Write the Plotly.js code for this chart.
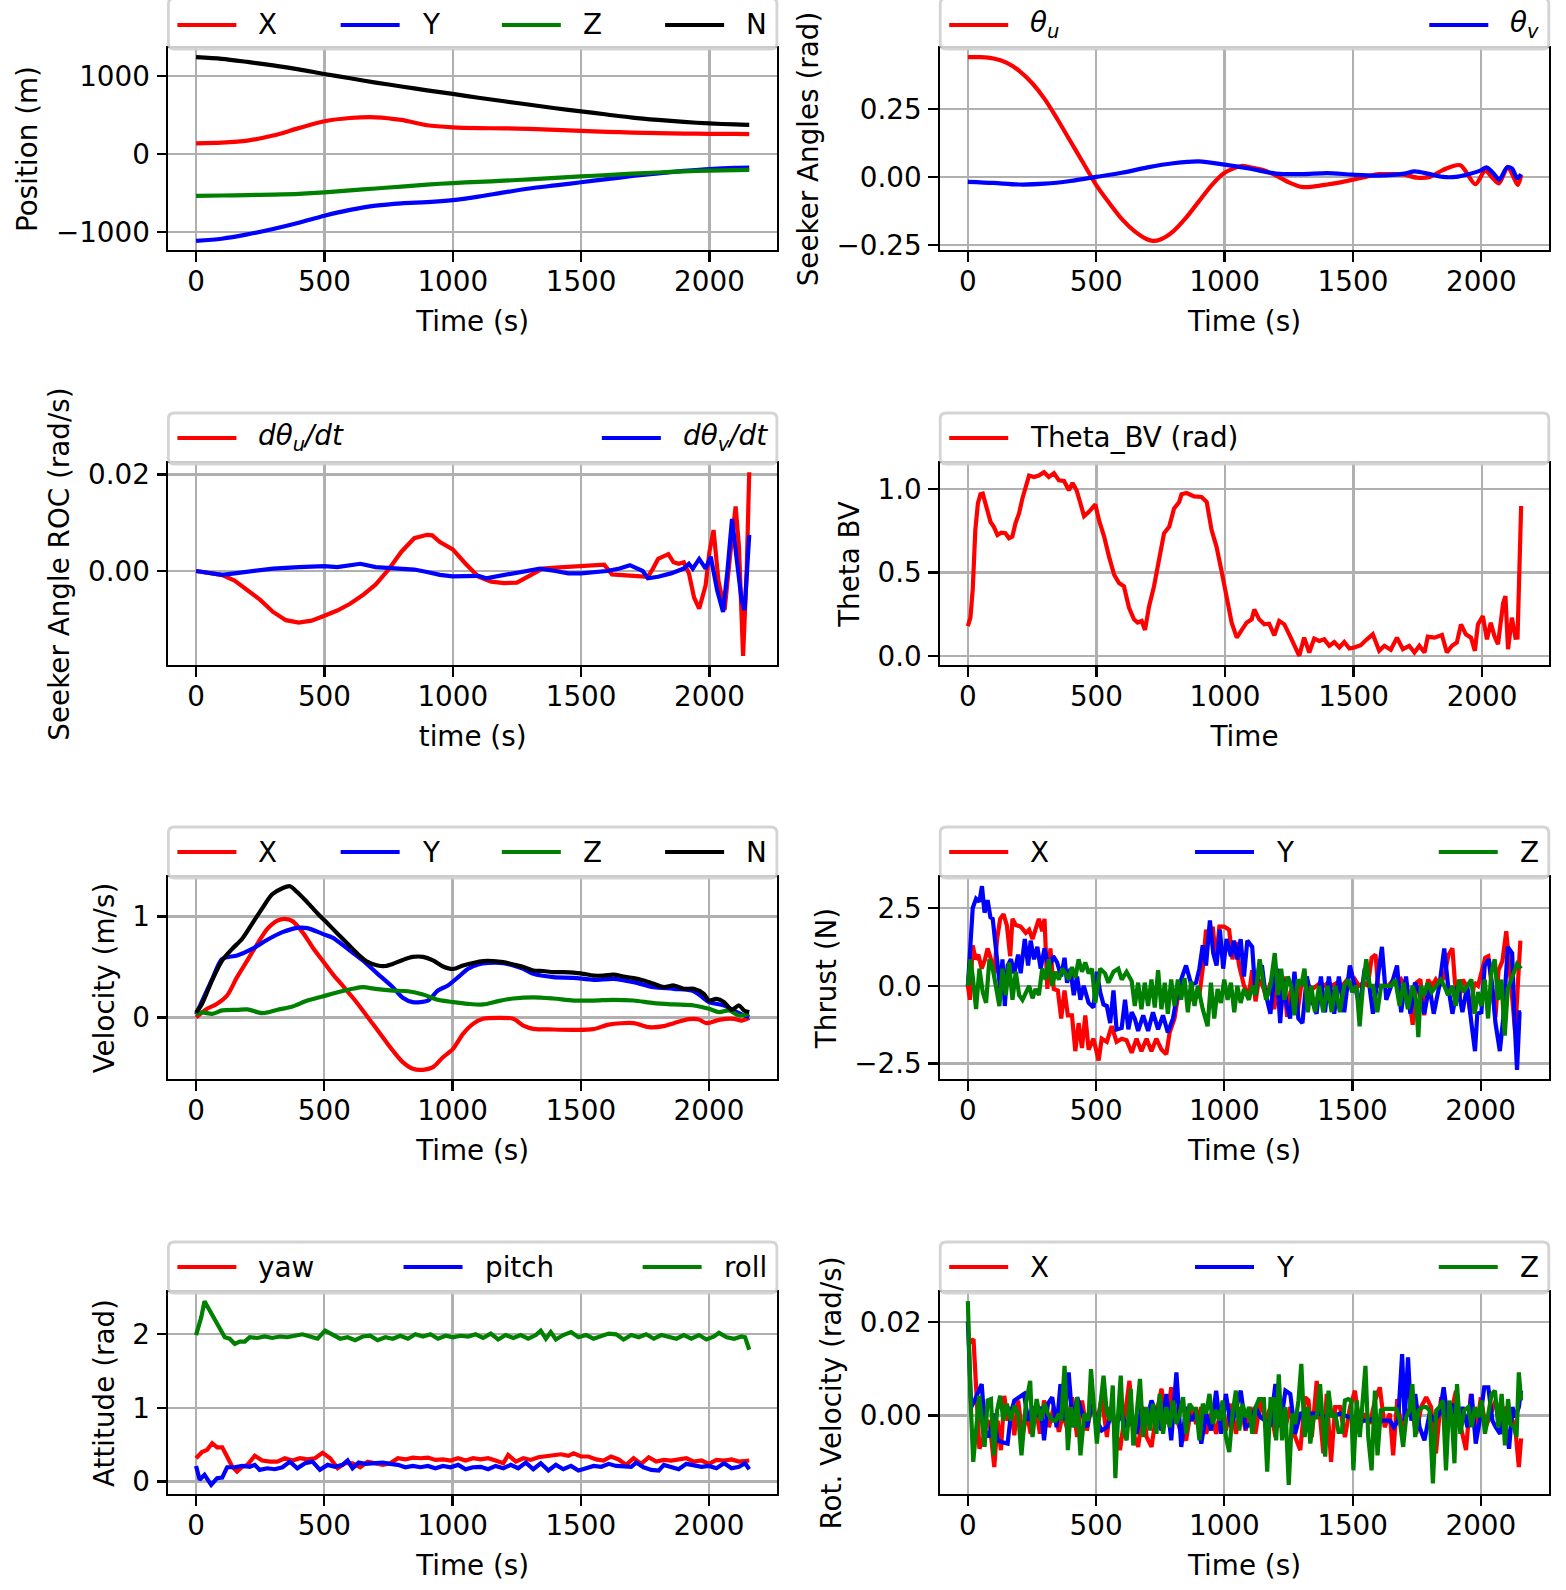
<!DOCTYPE html>
<html><head><meta charset="utf-8">
<script src="https://cdn.plot.ly/plotly-3.0.1.min.js"></script>
<style>html,body{margin:0;padding:0;background:#fff}#chart{width:1566px;height:1590px}</style>
</head><body><div id="chart"></div>
<script>
// ---------------- DATA (time [s], value) ----------------
const posX = [[0,140],[100,150],[200,175],[300,240],[400,335],[500,424],[600,465],[700,474],[800,440],[900,372],[1000,345],[1100,335],[1200,332],[1300,325],[1400,312],[1500,300],[1600,288],[1700,278],[1800,270],[1900,265],[2000,262],[2100,260],[2155,258]];
const posY = [[0,-1112],[100,-1085],[200,-1030],[300,-960],[400,-880],[500,-790],[600,-715],[700,-660],[800,-630],[900,-615],[1000,-590],[1100,-545],[1200,-490],[1300,-440],[1400,-400],[1500,-360],[1600,-320],[1700,-280],[1800,-245],[1900,-215],[2000,-190],[2100,-175],[2155,-172]];
const posZ = [[0,-535],[100,-530],[200,-525],[300,-518],[400,-508],[500,-490],[600,-465],[700,-440],[800,-415],[900,-390],[1000,-370],[1100,-355],[1200,-340],[1300,-322],[1400,-305],[1500,-285],[1600,-268],[1700,-250],[1800,-235],[1900,-220],[2000,-210],[2100,-203],[2155,-200]];
const posN = [[0,1246],[100,1225],[200,1185],[300,1140],[400,1090],[500,1030],[600,975],[700,920],[800,870],[900,820],[1000,775],[1100,725],[1200,680],[1300,635],[1400,590],[1500,550],[1600,510],[1700,470],[1800,440],[1900,415],[2000,395],[2100,382],[2155,378]];

const seekU = [[0,0.44],[50,0.44],[100,0.435],[150,0.42],[200,0.39],[250,0.345],[300,0.285],[350,0.21],[400,0.13],[450,0.05],[500,-0.03],[550,-0.095],[600,-0.155],[650,-0.2],[700,-0.23],[720,-0.235],[750,-0.23],[800,-0.2],[850,-0.15],[900,-0.09],[950,-0.03],[1000,0.015],[1065,0.04],[1100,0.035],[1150,0.025],[1200,0.005],[1250,-0.02],[1300,-0.037],[1350,-0.035],[1400,-0.028],[1450,-0.02],[1500,-0.01],[1550,0.0],[1600,0.01],[1650,0.01],[1700,0.008],[1750,-0.003],[1800,0.0],[1850,0.025],[1918,0.043],[1977,-0.027],[2015,0.024],[2040,0.0],[2068,-0.024],[2103,0.037],[2120,0.01],[2142,-0.03],[2155,0.006]];
const seekV = [[0,-0.018],[100,-0.022],[200,-0.028],[300,-0.025],[400,-0.015],[500,0.0],[600,0.015],[700,0.035],[800,0.05],[900,0.057],[1000,0.045],[1100,0.03],[1200,0.012],[1300,0.01],[1400,0.014],[1500,0.008],[1600,0.005],[1700,0.012],[1740,0.02],[1800,0.01],[1850,0.0],[1900,0.0],[1950,0.01],[2000,0.025],[2020,0.035],[2050,0.01],[2070,-0.01],[2100,0.035],[2120,0.03],[2140,-0.005],[2155,0.01]];

const rocU = [[0,0],[50,-0.0003],[100,-0.0008],[150,-0.002],[200,-0.004],[250,-0.006],[300,-0.0085],[350,-0.0102],[400,-0.0107],[450,-0.0103],[500,-0.0093],[550,-0.0082],[600,-0.0068],[650,-0.005],[700,-0.0028],[750,0.0003],[800,0.004],[850,0.0068],[900,0.0075],[920,0.0074],[950,0.006],[1000,0.0045],[1050,0.0015],[1100,-0.0012],[1150,-0.0022],[1200,-0.0025],[1250,-0.0024],[1300,-0.001],[1350,0.0005],[1400,0.0007],[1500,0.001],[1590,0.0013],[1620,-0.0007],[1700,-0.001],[1760,-0.0012],[1780,0.0005],[1800,0.0025],[1840,0.0035],[1860,0.0018],[1880,0.0015],[1900,0.0018],[1920,-0.0005],[1940,-0.0055],[1960,-0.0078],[1985,-0.003],[2000,0.004],[2016,0.0085],[2035,-0.002],[2059,-0.0081],[2080,0.003],[2102,0.0134],[2115,0.005],[2131,-0.0176],[2145,0.0],[2155,0.0205]];
const rocV = [[0,0],[50,-0.0003],[100,-0.0008],[150,-0.0005],[200,-0.0001],[250,0.0001],[300,0.0005],[400,0.0008],[500,0.001],[550,0.0008],[600,0.0012],[640,0.0015],[700,0.0008],[800,0.0005],[850,0.0003],[900,-0.0002],[950,-0.0008],[1000,-0.0011],[1050,-0.0011],[1100,-0.001],[1130,-0.0015],[1200,-0.0008],[1250,-0.0003],[1300,0.0],[1340,0.0005],[1400,0.0],[1450,-0.0005],[1500,-0.0005],[1550,-0.0003],[1600,0.0],[1650,0.0005],[1690,0.0012],[1740,0.0],[1760,-0.0015],[1800,-0.0012],[1850,-0.0005],[1900,0.0005],[1920,0.0015],[1935,0.0005],[1960,0.0025],[1985,0.0005],[2005,0.003],[2030,-0.004],[2053,-0.0085],[2070,0.0],[2088,0.0108],[2105,0.003],[2125,-0.006],[2137,-0.0081],[2155,0.0075]];

const thetaBV = [[0,0.179],[10,0.229],[19,0.4],[29,0.755],[39,0.915],[49,0.97],[58,0.974],[72,0.905],[88,0.805],[101,0.775],[115,0.726],[130,0.74],[146,0.736],[160,0.706],[173,0.716],[185,0.795],[199,0.855],[212,0.944],[228,1.044],[238,1.083],[257,1.074],[276,1.083],[296,1.103],[315,1.074],[335,1.097],[354,1.054],[374,1.05],[393,0.994],[407,1.038],[423,0.994],[438,0.915],[452,0.839],[471,0.865],[496,0.909],[510,0.815],[530,0.716],[549,0.596],[569,0.487],[588,0.437],[607,0.417],[627,0.288],[646,0.219],[660,0.2],[676,0.209],[689,0.155],[705,0.298],[724,0.417],[744,0.577],[763,0.736],[783,0.775],[802,0.885],[822,0.924],[831,0.97],[851,0.978],[880,0.958],[909,0.954],[929,0.924],[948,0.755],[967,0.656],[987,0.507],[1007,0.358],[1026,0.199],[1046,0.109],[1065,0.149],[1084,0.199],[1104,0.219],[1114,0.278],[1133,0.219],[1153,0.189],[1172,0.193],[1192,0.123],[1211,0.209],[1231,0.189],[1250,0.129],[1269,0.07],[1289,0.0],[1308,0.109],[1328,0.02],[1347,0.103],[1367,0.089],[1386,0.099],[1406,0.06],[1425,0.083],[1445,0.05],[1464,0.083],[1484,0.044],[1503,0.05],[1528,0.064],[1552,0.099],[1575,0.129],[1600,0.03],[1620,0.06],[1645,0.036],[1669,0.109],[1692,0.04],[1717,0.06],[1737,0.02],[1756,0.06],[1776,0.02],[1789,0.115],[1815,0.109],[1844,0.125],[1863,0.02],[1883,0.06],[1902,0.08],[1918,0.189],[1937,0.129],[1957,0.109],[1972,0.03],[1984,0.189],[2003,0.239],[2019,0.099],[2034,0.199],[2048,0.119],[2062,0.07],[2082,0.318],[2091,0.358],[2101,0.04],[2116,0.229],[2130,0.109],[2138,0.11],[2152,0.9]];

const velX = [[0,0.0],[43,0.086],[82,0.135],[121,0.218],[160,0.4],[200,0.565],[239,0.73],[278,0.878],[317,0.96],[346,0.977],[376,0.954],[415,0.845],[454,0.696],[493,0.564],[532,0.432],[571,0.317],[610,0.2],[650,0.07],[689,-0.063],[728,-0.195],[767,-0.327],[806,-0.442],[845,-0.508],[885,-0.518],[924,-0.492],[963,-0.393],[1002,-0.31],[1041,-0.162],[1080,-0.063],[1119,-0.013],[1178,-0.003],[1237,-0.013],[1276,-0.08],[1315,-0.112],[1393,-0.119],[1472,-0.122],[1550,-0.115],[1609,-0.07],[1706,-0.056],[1765,-0.096],[1824,-0.086],[1863,-0.056],[1922,-0.017],[1961,-0.02],[1990,-0.056],[2039,-0.023],[2098,-0.013],[2127,-0.03],[2157,-0.003]];
const velY = [[0,0.03],[63,0.38],[102,0.58],[160,0.614],[219,0.68],[278,0.77],[337,0.845],[395,0.888],[434,0.885],[493,0.828],[532,0.79],[591,0.68],[650,0.565],[708,0.432],[767,0.3],[806,0.195],[845,0.152],[904,0.168],[943,0.267],[982,0.317],[1022,0.4],[1061,0.482],[1100,0.525],[1139,0.54],[1198,0.538],[1237,0.515],[1276,0.482],[1315,0.432],[1393,0.4],[1472,0.393],[1550,0.373],[1628,0.383],[1706,0.35],[1785,0.3],[1863,0.284],[1941,0.26],[2000,0.152],[2059,0.119],[2117,0.043],[2157,0.003]];
const velZ = [[0,0.03],[23,0.05],[63,0.036],[102,0.07],[160,0.076],[200,0.08],[258,0.043],[317,0.076],[376,0.109],[434,0.168],[493,0.208],[552,0.25],[610,0.284],[650,0.3],[708,0.28],[767,0.267],[826,0.26],[885,0.228],[943,0.175],[1002,0.152],[1061,0.135],[1119,0.129],[1178,0.162],[1237,0.188],[1315,0.2],[1393,0.188],[1472,0.168],[1550,0.168],[1628,0.175],[1706,0.168],[1785,0.142],[1863,0.129],[1941,0.119],[2000,0.086],[2039,0.053],[2078,0.07],[2117,0.02],[2157,0.036]];
const velN = [[0,0.05],[23,0.135],[63,0.37],[102,0.565],[141,0.68],[180,0.78],[219,0.93],[258,1.08],[297,1.22],[337,1.28],[366,1.3],[395,1.24],[434,1.14],[474,1.03],[513,0.93],[552,0.83],[591,0.73],[630,0.63],[669,0.55],[708,0.515],[738,0.51],[767,0.53],[806,0.57],[845,0.6],[885,0.6],[924,0.565],[963,0.505],[1002,0.48],[1041,0.515],[1080,0.54],[1119,0.558],[1159,0.558],[1198,0.548],[1237,0.525],[1276,0.5],[1315,0.465],[1354,0.46],[1393,0.45],[1432,0.45],[1472,0.445],[1511,0.432],[1550,0.415],[1589,0.415],[1628,0.425],[1667,0.405],[1706,0.39],[1745,0.366],[1785,0.333],[1824,0.3],[1863,0.317],[1902,0.284],[1941,0.284],[1980,0.234],[2000,0.168],[2029,0.185],[2059,0.152],[2088,0.076],[2117,0.119],[2137,0.07],[2157,0.053]];

const thrX = [[0,0],[8,-0.45],[19,1.3],[30,0.85],[41,1.0],[54,0.55],[67,0.85],[77,1.2],[90,0.85],[103,0.4],[114,1.5],[126,2.15],[139,2.3],[152,1.95],[165,0.95],[174,2.15],[187,1.95],[206,1.9],[226,1.7],[239,1.8],[252,1.5],[264,1.8],[277,2.15],[290,1.75],[299,2.15],[310,-0.1],[322,1.2],[335,-0.1],[351,-0.15],[364,-1.05],[377,-0.15],[390,-0.95],[406,-0.95],[419,-2.1],[432,-1.2],[445,-2.0],[458,-0.95],[471,-2.05],[490,-1.7],[510,-2.4],[522,-1.7],[542,-1.8],[561,-1.3],[580,-1.8],[600,-1.7],[619,-1.75],[639,-2.15],[658,-1.7],[677,-2.1],[697,-1.7],[716,-2.1],[735,-1.7],[755,-2.05],[774,-2.2],[787,-1.5],[806,-1.05],[826,0],[851,-0.2],[877,-0.45],[903,-0.3],[916,0.55],[929,1.8],[942,1.4],[955,1.9],[968,0.85],[981,1.9],[1000,1.9],[1019,1.8],[1032,0.85],[1045,1.4],[1058,0.65],[1077,0],[1090,-0.2],[1096,-0.3],[1109,0.5],[1122,-0.5],[1135,0.2],[1150,0.0],[1165,-0.4],[1180,0.1],[1195,-0.75],[1208,0.0],[1220,-0.9],[1232,0.3],[1245,-1.0],[1258,-0.2],[1270,0.0],[1285,-0.9],[1300,0.0],[1315,0.1],[1330,0.0],[1345,-0.1],[1360,0.0],[1375,0.1],[1390,0.0],[1405,0.1],[1420,0.0],[1440,0.1],[1460,0.0],[1480,0.2],[1495,0.0],[1510,0.2],[1525,0.0],[1545,0.1],[1560,0.0],[1575,0.9],[1590,1.0],[1600,0.0],[1620,0.0],[1640,0.0],[1660,0.2],[1675,0.0],[1690,0.2],[1705,0.0],[1720,-0.3],[1735,-1.25],[1750,0.1],[1765,0.2],[1780,-0.95],[1795,0.2],[1810,0.0],[1825,0.2],[1840,0.0],[1858,0.3],[1875,1.0],[1890,1.2],[1900,0.1],[1915,-0.5],[1930,0.2],[1945,0.0],[1960,-0.9],[1975,0.1],[1990,0.0],[2005,0.5],[2018,0.9],[2030,0.95],[2045,-0.2],[2058,-1.0],[2070,0.5],[2085,0.8],[2100,1.75],[2115,0.3],[2125,-0.5],[2135,-1.5],[2145,0.0],[2155,1.45]];
const thrY = [[0,0],[10,1.4],[19,2.5],[32,2.8],[45,2.7],[55,3.2],[65,2.35],[77,2.75],[88,2.2],[97,2.15],[106,1.4],[116,0.85],[126,-0.1],[135,0.85],[144,-0.65],[155,0.65],[168,0.85],[181,0.4],[196,1.0],[206,0.4],[222,1.5],[235,0.65],[245,1.45],[258,0.85],[271,1.25],[284,0.55],[299,1.2],[316,0.55],[333,0.95],[348,0.75],[364,0.3],[377,0.9],[387,0.1],[400,0.55],[413,-0.3],[426,0.3],[439,-0.45],[452,0.0],[471,-0.55],[490,-0.7],[503,0.45],[516,-0.2],[529,-0.6],[542,-0.65],[555,-1.2],[568,-0.15],[580,-1.4],[600,-1.35],[613,-0.45],[626,-1.4],[639,-0.85],[651,-1.05],[664,-1.45],[684,-0.95],[703,-1.45],[722,-0.85],[742,-1.4],[761,-0.95],[780,-1.5],[800,-1.05],[813,-0.45],[832,0.2],[851,0.65],[871,0.05],[890,0.1],[903,0.55],[916,1.3],[929,0.65],[944,2.1],[957,1.05],[970,0.65],[983,1.8],[996,0.55],[1009,1.5],[1026,0.95],[1038,1.45],[1051,0.85],[1064,1.5],[1077,0.3],[1090,1.45],[1109,1.25],[1122,-0.3],[1135,0.55],[1147,0.65],[1160,-0.2],[1180,-0.9],[1192,0],[1205,0.55],[1218,-1.2],[1231,0.2],[1244,-0.65],[1257,-1.05],[1274,0.45],[1289,-1.05],[1305,-1.2],[1322,0.3],[1341,-0.45],[1360,-0.9],[1377,0.3],[1393,-0.85],[1408,0.3],[1429,-0.9],[1447,0.3],[1468,-0.85],[1490,0.65],[1509,0],[1528,-0.65],[1548,0.55],[1563,0.2],[1580,-0.9],[1599,0.3],[1615,1.25],[1632,-0.45],[1651,0],[1674,0.65],[1690,-0.85],[1709,0.3],[1726,-0.9],[1744,0.1],[1761,-0.2],[1780,-0.9],[1800,0],[1817,-0.9],[1839,0],[1858,1.2],[1873,0],[1890,-0.9],[1910,0],[1929,-0.85],[1948,0],[1964,-1.2],[1978,-2.1],[1987,-0.9],[2003,-0.85],[2016,0.65],[2032,0.85],[2045,0],[2058,-1.2],[2075,-2.1],[2088,-1.05],[2106,1.25],[2123,1.05],[2132,-1.05],[2142,-2.7],[2152,-0.85],[2158,-0.85]];
const thrZ = [[0,0],[10,0.85],[19,0.3],[32,-0.75],[45,0.55],[58,-0.2],[71,-0.55],[84,0.85],[97,0.55],[110,0],[123,-0.65],[135,0.55],[148,-0.3],[161,0.75],[174,-0.45],[187,0.45],[200,-0.3],[213,-0.45],[226,-0.2],[239,0],[252,-0.4],[264,-0.1],[277,-0.3],[290,0.55],[303,0.2],[316,0.85],[329,0],[342,0.45],[355,0.2],[368,0.55],[381,0.4],[393,0.2],[406,0.6],[419,0.25],[432,0.85],[445,0.45],[458,0.75],[471,0.4],[484,0.55],[497,-0.55],[516,0.55],[535,0.4],[548,0.1],[568,0.45],[587,0.55],[600,0.2],[619,0.45],[639,0.15],[651,-0.65],[664,0.1],[677,-0.75],[690,0.1],[703,-0.65],[716,0.2],[729,-0.7],[742,0.5],[755,-0.75],[768,0.1],[780,-0.9],[793,0.2],[806,-0.65],[819,0.2],[832,-0.45],[845,0.25],[858,-0.85],[871,0.15],[884,-0.65],[897,0],[916,-0.75],[935,-1.3],[948,0.1],[961,-1.05],[974,-0.1],[987,-0.55],[1000,0.2],[1013,-0.45],[1026,0.1],[1039,-0.85],[1051,0],[1064,-0.55],[1077,-0.1],[1096,-0.45],[1109,0],[1122,-0.3],[1138,0.85],[1151,0.1],[1163,-0.45],[1180,0],[1197,1.05],[1210,-0.3],[1222,0.55],[1235,-0.45],[1248,0.3],[1261,0],[1274,-0.95],[1287,0.2],[1300,0],[1313,0.55],[1326,-0.85],[1339,0],[1354,-0.85],[1370,0],[1386,-0.85],[1403,0],[1419,-0.85],[1434,0],[1451,-0.85],[1468,0],[1484,0.2],[1499,-0.2],[1516,0],[1528,-1.3],[1541,0],[1554,0.85],[1567,0],[1580,0],[1597,-0.85],[1612,0],[1632,0],[1651,0],[1667,0.2],[1684,-0.65],[1700,0.1],[1716,-0.75],[1735,0],[1748,-0.45],[1757,-1.65],[1767,0],[1780,-0.3],[1793,0.1],[1809,-0.2],[1826,0],[1845,0.2],[1858,0],[1873,-0.3],[1890,0],[1903,-0.65],[1916,0.2],[1932,-0.2],[1948,0],[1964,0.2],[1977,-0.9],[1990,-0.2],[2003,-0.65],[2016,0.2],[2029,-1.05],[2042,0.45],[2055,0.85],[2068,-0.45],[2081,0.2],[2094,-1.6],[2106,-0.1],[2119,0.2],[2132,0.55],[2142,0.7],[2158,0.55]];

const attYaw = [[0,0.316],[23,0.4],[43,0.43],[63,0.52],[82,0.465],[102,0.465],[121,0.34],[141,0.2],[160,0.135],[180,0.2],[200,0.226],[229,0.35],[258,0.285],[288,0.27],[317,0.27],[346,0.316],[376,0.285],[405,0.316],[434,0.3],[464,0.316],[493,0.39],[523,0.316],[552,0.18],[581,0.248],[610,0.248],[640,0.194],[669,0.27],[699,0.248],[728,0.226],[757,0.248],[787,0.316],[816,0.3],[845,0.325],[875,0.316],[904,0.325],[933,0.293],[963,0.3],[992,0.285],[1022,0.316],[1051,0.285],[1080,0.316],[1110,0.3],[1139,0.316],[1168,0.285],[1198,0.248],[1217,0.36],[1247,0.27],[1276,0.316],[1305,0.293],[1335,0.33],[1364,0.34],[1393,0.348],[1423,0.37],[1452,0.348],[1472,0.384],[1501,0.34],[1530,0.34],[1560,0.3],[1589,0.285],[1618,0.34],[1648,0.3],[1677,0.226],[1706,0.316],[1736,0.24],[1765,0.33],[1794,0.27],[1824,0.293],[1853,0.285],[1882,0.3],[1912,0.316],[1941,0.27],[1971,0.285],[2000,0.24],[2029,0.293],[2059,0.285],[2088,0.3],[2117,0.27],[2157,0.285]];
const attPitch = [[0,0.212],[14,0.023],[33,0.09],[59,-0.045],[82,0.045],[102,0.054],[121,0.194],[151,0.194],[180,0.212],[209,0.2],[229,0.226],[248,0.158],[278,0.18],[307,0.167],[337,0.194],[366,0.27],[395,0.18],[425,0.248],[454,0.27],[483,0.158],[513,0.226],[542,0.2],[571,0.226],[591,0.285],[610,0.18],[634,0.257],[660,0.24],[689,0.248],[728,0.257],[757,0.24],[787,0.226],[816,0.194],[845,0.212],[875,0.194],[904,0.212],[933,0.18],[963,0.212],[992,0.194],[1022,0.226],[1051,0.167],[1080,0.194],[1110,0.2],[1139,0.167],[1168,0.212],[1198,0.18],[1227,0.226],[1256,0.18],[1286,0.257],[1315,0.167],[1344,0.248],[1374,0.149],[1403,0.226],[1432,0.167],[1462,0.212],[1491,0.149],[1521,0.18],[1550,0.212],[1580,0.2],[1609,0.24],[1638,0.212],[1667,0.2],[1697,0.2],[1716,0.257],[1745,0.194],[1775,0.158],[1804,0.149],[1824,0.226],[1853,0.2],[1882,0.167],[1912,0.24],[1941,0.226],[1971,0.2],[2000,0.212],[2029,0.18],[2059,0.248],[2088,0.18],[2117,0.2],[2141,0.248],[2157,0.167]];
const attRoll = [[0,1.99],[20,2.23],[33,2.45],[53,2.33],[82,2.14],[112,1.96],[131,1.94],[151,1.87],[170,1.9],[190,1.9],[209,1.96],[239,1.95],[268,1.97],[297,1.95],[327,1.97],[356,1.96],[385,1.98],[415,2.0],[444,1.97],[474,1.94],[503,2.05],[532,1.99],[562,1.94],[591,1.96],[620,1.92],[650,1.97],[679,1.98],[708,1.92],[738,1.96],[767,1.94],[796,1.98],[826,1.94],[855,2.0],[885,1.97],[914,2.0],[943,1.94],[973,1.98],[1002,1.96],[1031,1.98],[1061,1.97],[1090,2.0],[1119,1.95],[1149,2.01],[1178,1.93],[1207,1.99],[1237,1.95],[1266,1.99],[1295,1.94],[1325,1.99],[1344,2.05],[1364,1.94],[1383,2.03],[1403,1.93],[1432,1.99],[1462,2.03],[1491,1.96],[1521,1.99],[1550,1.94],[1580,1.97],[1609,2.01],[1638,2.0],[1667,1.93],[1697,1.99],[1726,1.96],[1755,2.0],[1785,1.94],[1814,1.99],[1843,1.96],[1873,1.94],[1902,1.99],[1931,1.94],[1961,1.99],[1990,1.93],[2020,1.97],[2039,2.02],[2069,1.96],[2098,1.94],[2127,1.97],[2141,1.96],[2157,1.79]];

const rotX = [[0,0.0155],[6,0.0155],[22,0.0163],[32,0.0074],[45,-0.0071],[58,-0.0053],[71,-0.0018],[84,-0.0011],[103,-0.011],[116,-0.0011],[129,-0.0074],[142,0.0042],[155,-0.0011],[168,0.0018],[181,-0.0042],[196,0.0032],[213,-0.0042],[230,0.0004],[245,-0.0039],[264,0.0018],[281,-0.0039],[297,0.0032],[316,-0.0025],[335,0.0018],[355,-0.0035],[371,0.0004],[387,-0.0028],[406,0.0039],[426,-0.0046],[445,0.0032],[464,-0.0032],[484,0.0025],[503,-0.0018],[522,0.0039],[542,-0.0046],[555,0.0018],[574,-0.0032],[593,-0.0074],[613,0.0004],[630,0.0074],[645,-0.0039],[664,-0.0067],[684,0.0018],[697,-0.0046],[716,-0.0067],[735,0.0004],[755,0.0057],[774,-0.0018],[793,0.006],[813,-0.0004],[832,-0.0039],[851,-0.0053],[871,0.0018],[890,-0.0018],[910,0.0018],[929,-0.0039],[948,0.0004],[968,-0.0039],[987,0.0018],[1006,-0.0032],[1026,0.0025],[1045,-0.0039],[1064,0.0018],[1083,-0.0032],[1102,0.0018],[1121,-0.0039],[1141,0.0032],[1160,-0.0011],[1180,0.0018],[1199,-0.0046],[1218,0.0032],[1238,-0.0025],[1257,0.0018],[1276,-0.0046],[1296,-0.0074],[1315,0.0039],[1328,0.0032],[1341,-0.0046],[1360,0.0074],[1373,0.0004],[1386,-0.0081],[1399,0.0046],[1416,-0.0099],[1432,0.0018],[1451,0.0018],[1470,-0.0046],[1490,0.0018],[1509,0.0053],[1528,-0.0025],[1548,0.0004],[1567,-0.0018],[1587,0.0032],[1606,0.006],[1625,-0.0025],[1645,0.0004],[1658,-0.0085],[1674,0.0035],[1690,-0.0025],[1709,0.0004],[1729,0.0018],[1748,-0.0039],[1767,0.0018],[1787,0.0039],[1806,0.0018],[1825,-0.0081],[1845,0.0039],[1864,-0.0025],[1883,0.0004],[1903,0.0053],[1922,-0.0025],[1942,-0.0074],[1961,0.0046],[1980,-0.0039],[2000,0.0039],[2019,-0.0025],[2039,0.0004],[2058,0.0032],[2077,-0.0025],[2097,0.0018],[2116,0.0004],[2135,-0.0032],[2148,-0.011],[2157,-0.0049]];
const rotY = [[0,0.0201],[13,0.0018],[26,0.0032],[41,0.0053],[54,0.0067],[67,-0.0032],[84,-0.0046],[100,0.0004],[116,-0.0053],[135,-0.0057],[155,-0.006],[168,0.0004],[181,0.0032],[200,0.0039],[219,0.0046],[235,-0.0011],[252,0.0018],[271,0.0004],[284,0.0018],[297,-0.0053],[312,0.0025],[329,0.0039],[346,-0.0025],[361,0.0067],[377,-0.0011],[393,0.0092],[410,-0.0025],[426,0.0039],[445,0.0004],[464,-0.0025],[484,0.0025],[503,-0.0011],[522,-0.0032],[542,-0.0025],[561,0.0004],[580,-0.0018],[600,0.0004],[619,-0.0025],[639,-0.0011],[658,-0.0039],[677,0.0018],[697,-0.0011],[716,0.0032],[735,0.0004],[755,-0.0032],[774,0.0046],[793,-0.0053],[813,0.0092],[832,-0.0067],[851,0.0018],[871,-0.0011],[890,0.0007],[910,-0.006],[929,0.0004],[948,-0.0032],[968,0.0053],[987,-0.0039],[1006,0.0046],[1026,-0.0025],[1045,0.0018],[1064,0.0053],[1083,-0.0025],[1102,-0.0018],[1121,0.0018],[1141,-0.0004],[1160,-0.0011],[1180,-0.0018],[1199,0.0067],[1218,-0.0025],[1238,0.0053],[1257,0.0046],[1276,-0.0039],[1296,0.0004],[1315,0.0007],[1335,0.0004],[1354,0.0004],[1373,0.0004],[1393,-0.0004],[1412,0.0004],[1432,0.0],[1451,0.0004],[1470,0.0],[1490,-0.0004],[1509,-0.0004],[1528,-0.0011],[1548,-0.0011],[1567,-0.0011],[1587,-0.0004],[1606,-0.0011],[1625,-0.0011],[1645,-0.0011],[1661,-0.0025],[1677,-0.0011],[1693,0.0131],[1703,-0.0011],[1716,0.0124],[1729,-0.0011],[1744,0.0046],[1761,-0.0025],[1780,-0.0053],[1800,0.0004],[1819,-0.0011],[1839,0.0004],[1855,0.006],[1873,-0.0018],[1890,0.0025],[1910,-0.0018],[1929,0.0018],[1948,-0.0025],[1964,0.0046],[1980,-0.006],[2000,0.0004],[2013,0.006],[2029,0.006],[2045,-0.0011],[2058,-0.0025],[2075,-0.0039],[2090,0.0004],[2110,-0.0071],[2123,0.0018],[2135,-0.0004],[2148,0.0018],[2157,0.0053]];
const rotZ = [[0,0.0244],[10,0.0039],[21,-0.0099],[34,-0.0011],[44,0.0042],[54,-0.0007],[65,-0.0067],[77,0.0032],[90,0.0035],[101,-0.0085],[114,0.0011],[126,0.0042],[139,-0.0011],[152,0.0025],[168,-0.0011],[181,0.0021],[196,0.0004],[209,-0.0085],[226,0.0025],[243,0.0074],[252,-0.0046],[268,0.0035],[284,-0.0011],[299,0.0025],[312,0.0004],[329,-0.0011],[342,-0.0011],[355,0.0004],[364,-0.0011],[377,0.0106],[390,-0.0074],[402,0.0018],[415,-0.0025],[426,0.0039],[439,-0.0085],[454,0.0004],[470,-0.0011],[480,0.0099],[490,0.0018],[503,-0.006],[513,0.0004],[529,0.0085],[542,0.0004],[555,-0.0011],[565,0.0064],[575,-0.0134],[586,0.0004],[596,0.0085],[606,-0.0032],[619,-0.0053],[635,0.0057],[645,-0.0064],[658,0.0004],[671,0.0078],[684,-0.0046],[697,0.0018],[710,-0.0032],[722,0.0025],[735,-0.0039],[748,0.0046],[761,-0.0039],[774,0.0018],[787,-0.0025],[800,0.0032],[813,-0.0018],[826,0.0004],[839,0.0039],[851,-0.0039],[864,0.0025],[877,0.0014],[890,0.0014],[903,-0.0053],[916,0.0025],[929,0.0004],[942,0.0046],[955,-0.0018],[968,0.0011],[981,-0.0011],[993,0.0032],[1006,-0.0046],[1019,-0.0078],[1032,0.0004],[1045,0.0053],[1058,-0.0032],[1071,0.0025],[1084,-0.0004],[1096,0.0018],[1109,-0.0039],[1122,0.0018],[1135,0.0035],[1154,0.0035],[1167,-0.012],[1180,0.0035],[1192,0.0035],[1202,-0.0053],[1212,0.0088],[1225,-0.0053],[1238,0.0018],[1251,-0.0148],[1264,0.0004],[1276,-0.0018],[1289,0.0032],[1300,0.011],[1313,-0.0046],[1326,0.0018],[1335,-0.006],[1348,-0.0004],[1360,-0.0004],[1373,0.0067],[1383,-0.0025],[1393,-0.0088],[1406,0.0053],[1419,-0.0004],[1432,0.0004],[1445,-0.0035],[1458,-0.0035],[1470,0.0032],[1483,0.0035],[1494,0.0032],[1503,-0.0117],[1516,0.0032],[1528,-0.0046],[1541,0.0032],[1550,0.0106],[1561,-0.0046],[1574,-0.0117],[1587,0.0053],[1597,-0.0085],[1610,0.0011],[1625,0.0014],[1651,0.0014],[1671,0.0014],[1684,-0.0011],[1697,-0.0067],[1709,-0.0004],[1722,0.0011],[1733,0.0067],[1744,-0.0046],[1757,0.0011],[1774,0.0018],[1787,0.0018],[1800,0.0011],[1813,-0.0145],[1826,0.0011],[1839,0.0018],[1852,0.0032],[1864,-0.0117],[1877,0.0032],[1887,-0.0004],[1897,-0.0102],[1907,0.0067],[1920,-0.0039],[1935,0.0011],[1951,0.0018],[1964,-0.0025],[1977,0.0018],[1990,-0.0004],[2003,0.0032],[2016,-0.0039],[2029,0.0004],[2042,0.0046],[2055,0.0053],[2068,-0.0025],[2081,0.0046],[2094,-0.0064],[2106,0.0035],[2116,-0.0018],[2129,-0.0025],[2139,-0.0046],[2148,0.0092],[2157,0.0032]];

const xTickVals = [0, 500, 1000, 1500, 2000];

// ---------------- LAYOUT HELPERS ----------------
const W = 1566, H = 1590, FS = 27.8, FONT = 'DejaVu Sans';
const colX = [[168.4, 776.9], [940.2, 1548.8]];
const rowY = [[48, 250], [463, 665], [877, 1079], [1292, 1494]];
const RED = '#ff0000', BLUE = '#0000ff', GREEN = '#008000', BLACK = '#000000';

const panels = [
  {xt:'Time (s)', yt:'Position (m)', fmt:'', dt:1000, smooth:true,
   series:[[posX,RED],[posY,BLUE],[posZ,GREEN],[posN,BLACK]],
   leg:[{h:'X',p:[['X',0,1]],c:RED},{h:'Y',p:[['Y',0,1]],c:BLUE},{h:'Z',p:[['Z',0,1]],c:GREEN},{h:'N',p:[['N',0,1]],c:BLACK}]},
  {xt:'Time (s)', yt:'Seeker Angles (rad)', fmt:'.2f', dt:0.25, smooth:true,
   series:[[seekU,RED],[seekV,BLUE]],
   leg:[{h:'<i>θ</i><sub><i>u</i></sub>',p:[['θ',1,1],['u',1,0.7]],c:RED},{h:'<i>θ</i><sub><i>v</i></sub>',p:[['θ',1,1],['v',1,0.7]],c:BLUE}]},
  {xt:'time (s)', yt:'Seeker Angle ROC (rad/s)', fmt:'.2f', dt:0.02, smooth:false,
   series:[[rocU,RED],[rocV,BLUE]],
   leg:[{h:'<i>dθ</i><sub><i>u</i></sub><i>/dt</i>',p:[['dθ',1,1],['u',1,0.7],['/dt',1,1]],c:RED},{h:'<i>dθ</i><sub><i>v</i></sub><i>/dt</i>',p:[['dθ',1,1],['v',1,0.7],['/dt',1,1]],c:BLUE}]},
  {xt:'Time', yt:'Theta BV', fmt:'.1f', dt:0.5, smooth:false,
   series:[[thetaBV,RED]],
   leg:[{h:'Theta_BV (rad)',p:[['Theta_BV (rad)',0,1]],c:RED}]},
  {xt:'Time (s)', yt:'Velocity (m/s)', fmt:'', dt:1, smooth:true,
   series:[[velX,RED],[velY,BLUE],[velZ,GREEN],[velN,BLACK]],
   leg:[{h:'X',p:[['X',0,1]],c:RED},{h:'Y',p:[['Y',0,1]],c:BLUE},{h:'Z',p:[['Z',0,1]],c:GREEN},{h:'N',p:[['N',0,1]],c:BLACK}]},
  {xt:'Time (s)', yt:'Thrust (N)', fmt:'.1f', dt:2.5, smooth:false,
   series:[[thrX,RED],[thrY,BLUE],[thrZ,GREEN]],
   leg:[{h:'X',p:[['X',0,1]],c:RED},{h:'Y',p:[['Y',0,1]],c:BLUE},{h:'Z',p:[['Z',0,1]],c:GREEN}]},
  {xt:'Time (s)', yt:'Attitude (rad)', fmt:'', dt:1, smooth:false,
   series:[[attYaw,RED],[attPitch,BLUE],[attRoll,GREEN]],
   leg:[{h:'yaw',p:[['yaw',0,1]],c:RED},{h:'pitch',p:[['pitch',0,1]],c:BLUE},{h:'roll',p:[['roll',0,1]],c:GREEN}]},
  {xt:'Time (s)', yt:'Rot. Velocity (rad/s)', fmt:'.2f', dt:0.02, smooth:false,
   series:[[rotX,RED],[rotY,BLUE],[rotZ,GREEN]],
   leg:[{h:'X',p:[['X',0,1]],c:RED},{h:'Y',p:[['Y',0,1]],c:BLUE},{h:'Z',p:[['Z',0,1]],c:GREEN}]}
];

const ctx = document.createElement('canvas').getContext('2d');
function textW(parts){
  let w = 0;
  parts.forEach(([s, it, sc]) => { ctx.font = (it ? 'italic ' : '') + (FS*sc) + 'px "' + FONT + '"'; w += ctx.measureText(s).width; });
  return w;
}
const px = x => x / W, py = y => 1 - y / H;

const data = [], shapes = [], annotations = [], layout = {
  width: W, height: H, margin: {l:0, r:0, t:0, b:0},
  paper_bgcolor: '#ffffff', plot_bgcolor: '#ffffff', showlegend: false,
  font: {family: FONT, size: FS, color: '#000'}
};

function roundRect(x0, y0, x1, y1, r){
  const P = (x, y) => px(x) + ',' + py(y);
  return 'M' + P(x0+r,y0) + ' L' + P(x1-r,y0) + ' Q' + P(x1,y0) + ' ' + P(x1,y0+r) +
         ' L' + P(x1,y1-r) + ' Q' + P(x1,y1) + ' ' + P(x1-r,y1) +
         ' L' + P(x0+r,y1) + ' Q' + P(x0,y1) + ' ' + P(x0,y1-r) +
         ' L' + P(x0,y0+r) + ' Q' + P(x0,y0) + ' ' + P(x0+r,y0) + ' Z';
}

panels.forEach((pn, i) => {
  const c = i % 2, r = Math.floor(i / 2);
  const [xl, xr] = colX[c], [yt, yb] = rowY[r];
  const sfx = i === 0 ? '' : String(i + 1);
  let tmax = 0, vmin = Infinity, vmax = -Infinity;
  pn.series.forEach(([s, col]) => {
    s.forEach(([t, v]) => { tmax = Math.max(tmax, t); vmin = Math.min(vmin, v); vmax = Math.max(vmax, v); });
    const line = {color:col, width:4.2};
    if (pn.smooth) { line.shape = 'spline'; line.smoothing = 0.8; }
    data.push({type:'scatter', mode:'lines', x:s.map(p=>p[0]), y:s.map(p=>p[1]),
      xaxis:'x'+sfx, yaxis:'y'+sfx, line:line, hoverinfo:'skip'});
  });
  const xm = 0.05 * tmax, ym = 0.05 * (vmax - vmin);
  const common = {showline:true, mirror:true, linecolor:'#000', linewidth:2.2,
    ticks:'outside', ticklen:9.7, tickwidth:2.2, tickcolor:'#000',
    showgrid:true, gridcolor:'#b0b0b0', gridwidth:2.2, zeroline:false,
    tickfont:{family:FONT, size:FS, color:'#000'}, automargin:false, fixedrange:true};
  layout['xaxis'+sfx] = Object.assign({}, common, {
    domain:[px(xl), px(xr)], anchor:'y'+sfx, range:[-xm, tmax + xm],
    tickmode:'array', tickvals:xTickVals, ticklabelstandoff:-4,
    title:{text:pn.xt, font:{family:FONT, size:FS, color:'#000'}, standoff:14}});
  layout['yaxis'+sfx] = Object.assign({}, common, {
    domain:[py(yb), py(yt)], anchor:'x'+sfx, range:[vmin - ym, vmax + ym],
    tick0:0, dtick:pn.dt, tickformat:pn.fmt, ticklabelstandoff:1,
    title:{text:pn.yt, font:{family:FONT, size:FS, color:'#000'}, standoff:10}});
  // legend box (expand mode, above the axes)
  const lt = yt - 50, lb = yt + 1;
  shapes.push({type:'path', xref:'paper', yref:'paper', layer:'above', path:roundRect(xl, lt, xr, lb, 6),
    fillcolor:'rgba(255,255,255,0.8)', line:{color:'rgba(204,204,204,0.85)', width:2.8}});
  const HANDLE = 59, GAP = 22, PADL = 9, PADR = 10;
  const widths = pn.leg.map(e => HANDLE + GAP + textW(e.p));
  const tot = widths.reduce((a, b) => a + b, 0);
  const avail = (xr - xl) - PADL - PADR;
  const sep = pn.leg.length > 1 ? (avail - tot) / (pn.leg.length - 1) : 0;
  let x = xl + PADL;
  const yc = r === 0 ? (lt + yt) / 2 + 2 : (lt + yt) / 2;
  pn.leg.forEach((e, k) => {
    shapes.push({type:'line', xref:'paper', yref:'paper', layer:'above',
      x0:px(x), x1:px(x + HANDLE), y0:py(yc), y1:py(yc), line:{color:e.c, width:4.2}});
    annotations.push({xref:'paper', yref:'paper', x:px(x + HANDLE + GAP - 1), y:py(yc), xanchor:'left', yanchor:'middle',
      text:e.h, showarrow:false, borderpad:0, font:{family:FONT, size:FS, color:'#000'}});
    x += widths[k] + sep;
  });
});
layout.shapes = shapes;
layout.annotations = annotations;

Plotly.newPlot('chart', data, layout, {staticPlot:true, displayModeBar:false});
</script></body></html>
